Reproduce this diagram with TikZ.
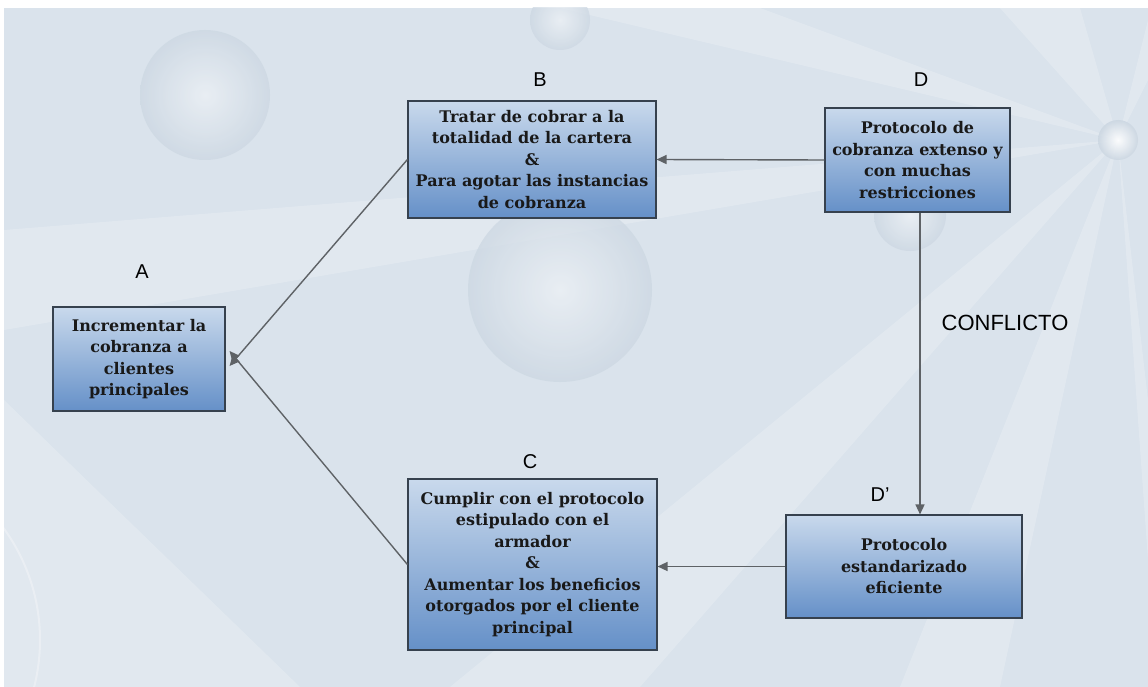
\documentclass[tikz,border=0pt]{standalone}
\usepackage{fontspec}
\setmainfont{DejaVu Serif}
\setsansfont{Liberation Sans}
\usetikzlibrary{arrows.meta}
\definecolor{bgbase}{HTML}{DAE3EC}
\definecolor{bglight}{HTML}{EEF2F6}
\definecolor{bubble}{HTML}{CCD7E2}
\definecolor{boxtop}{HTML}{C9D9EC}
\definecolor{boxbot}{HTML}{6590C8}
\definecolor{boxline}{HTML}{36414E}
\definecolor{linkgray}{HTML}{5E6266}
\tikzset{
  x=1pt, y=-1pt,
  stepbox/.style={draw=boxline, line width=1.1pt, top color=boxtop, bottom color=boxbot,
    inner sep=0pt, align=center, text=black!90,
    font=\fontsize{16}{21.5}\selectfont\bfseries},
  tag/.style={font=\sffamily\fontsize{20}{22}\selectfont, text=black},
  link/.style={draw=linkgray, line width=1.4pt, -{Triangle[length=10pt,width=9pt]}, color=linkgray},
  ray/.style={fill=white, opacity=0.2},
  sphere/.style={inner color=bglight, outer color=bubble, opacity=0.75},
}
\begin{document}
\begin{tikzpicture}
\useasboundingbox (0,0) rectangle (1148,687);
% page margin and backdrop
\fill[white] (0,0) rectangle (1148,687);
\fill[bgbase] (4,8) rectangle (1148,687);
\begin{scope}
  \clip (4,8) rectangle (1148,687);
  % light rays from the bright point on the right
  \fill[ray] (1118,140) -- (560,8) -- (760,8) -- cycle;
  \fill[ray] (1118,140) -- (1000,8) -- (1080,8) -- cycle;
  \fill[ray] (1118,140) -- (4,230) -- (4,330) -- cycle;
  \fill[ray] (1118,140) -- (450,687) -- (640,687) -- cycle;
  \fill[ray] (1118,140) -- (900,687) -- (1000,687) -- cycle;
  \fill[ray] (1118,140) -- (1148,400) -- (1148,560) -- cycle;
  \fill[ray] (1118,140) -- (1148,20) -- (1148,80) -- cycle;
  \fill[white, opacity=0.2] (4,687) -- (4,400) -- (300,687) -- cycle;
  % spheres
  \shade[sphere] (205,95) circle (65);
  \shade[sphere] (560,290) circle (92);
  \shade[sphere] (560,20) circle (30);
  \shade[sphere] (910,215) circle (36);
  \shade[inner color=white, outer color=bubble, opacity=0.9] (1118,140) circle (20);
  \draw[white, opacity=0.3, line width=2pt] (-150,640) circle (190);
\end{scope}

% boxes
\node[stepbox, minimum width=172pt, minimum height=104pt] (A) at (139,359)
  {Incrementar la\\cobranza a\\clientes\\principales};
\node[stepbox, minimum width=248pt, minimum height=117pt] (B) at (532,159.5)
  {Tratar de cobrar a la\\totalidad de la cartera\\\&\\Para agotar las instancias\\de cobranza};
\node[stepbox, minimum width=185pt, minimum height=104pt] (D) at (917.5,160)
  {Protocolo de\\cobranza extenso y\\con muchas\\restricciones};
\node[stepbox, minimum width=249pt, minimum height=171pt] (C) at (532.5,564.5)
  {Cumplir con el protocolo\\estipulado con el\\armador\\\&\\Aumentar los beneficios\\otorgados por el cliente\\principal};
\node[stepbox, minimum width=236pt, minimum height=103pt] (Dp) at (904,566.5)
  {Protocolo\\estandarizado\\eficiente};

% letters
\node[tag] (tA) at (142,272) {A};
\node[tag] (tB) at (540,80) {B};
\node[tag] (tD) at (921,80) {D};
\node[tag] (tC) at (530,462) {C};
\node[tag] (tDp) at (880,495) {D\char39};
\node[font=\sffamily\fontsize{22}{24}\selectfont, text=black] (conf) at (1005,323) {CONFLICTO};

% connectors
\draw[link] (D.west) -- (B.east);
\draw[link] (D.south -| 920,0) -- (Dp.north -| 920,0);
\draw[link] (Dp.west) -- (Dp.west -| C.east);
\draw[link] (B.west) -- ([xshift=4pt,yshift=-7pt]A.east);
\draw[link] (C.west) -- ([xshift=4pt,yshift=8pt]A.east);
\end{tikzpicture}
\end{document}
